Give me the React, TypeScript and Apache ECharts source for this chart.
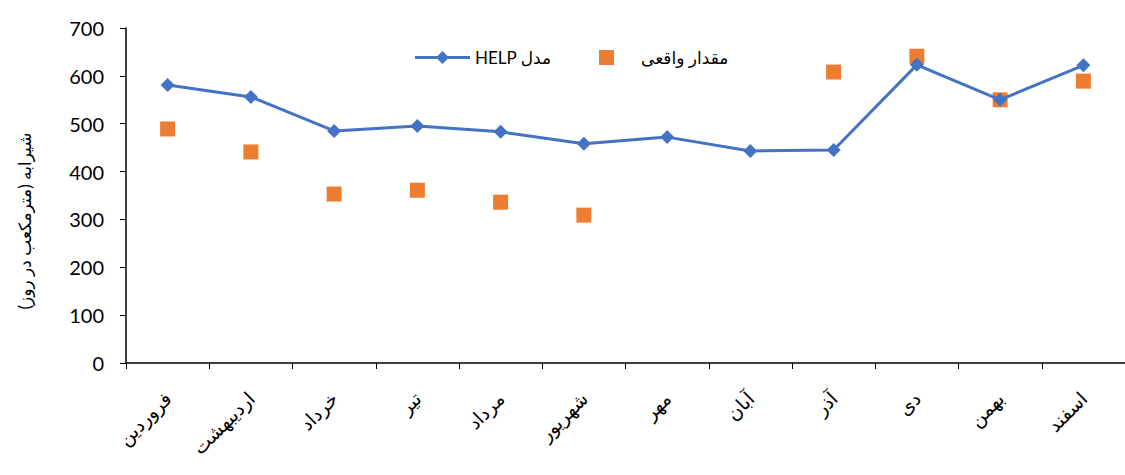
import React, { useEffect, useRef } from "react";
import * as echarts from "echarts";

const categories = ["فروردین", "اردیبهشت", "خرداد", "تیر", "مرداد", "شهریور", "مهر", "آبان", "آذر", "دی", "بهمن", "اسفند"];
const helpModel = [581, 556, 485, 495, 483, 458, 472, 443, 445, 623, 550, 622];
const observed: (number | null)[] = [489, 441, 353, 361, 336, 309, null, null, 608, 641, 550, 589];
const yTicks = { min: 0, max: 700, interval: 100 };
const lineName = "HELP مدل";
const scatterName = "مقدار واقعی";
const yAxisName = "شیرابه (مترمکعب در روز)";

const FONT = "Lato, 'DejaVu Sans', sans-serif";
const BLUE = "#4472C4";
const ORANGE = "#ED7D31";

export default function App() {
  const ref = useRef<HTMLDivElement>(null);
  useEffect(() => {
    document.body.style.margin = "0";
    const chart = echarts.init(ref.current!, null, { renderer: "svg" });
    chart.setOption({
      animation: false,
      backgroundColor: "#fff",
      legend: [
        {
          top: 44,
          left: 410,
          itemWidth: 55,
          itemHeight: 14,
          textStyle: { fontFamily: FONT, fontSize: 17, color: "#000" },
          data: [
            {
              name: lineName,
              icon: "path://M0,5.5 L55,5.5 L55,8.5 L0,8.5 Z M27.5,0.5 L34,7 L27.5,13.5 L21,7 Z",
              itemStyle: { color: BLUE },
            },
          ],
        },
        {
          top: 44,
          left: 594,
          itemWidth: 15,
          itemHeight: 15,
          textStyle: { fontFamily: FONT, fontSize: 17, color: "#000", padding: [0, 0, 0, 22] },
          data: [{ name: scatterName, icon: "rect" }],
        },
      ],
      graphic: [
        {
          type: "text",
          x: 24,
          y: 221,
          rotation: Math.PI / 2,
          style: {
            text: yAxisName,
            fontFamily: FONT,
            fontSize: 17,
            fill: "#000",
            align: "center",
            verticalAlign: "middle",
          },
        },
      ],
      grid: { left: 126, top: 28, width: 1008, height: 335, containLabel: false },
      xAxis: {
        type: "category",
        data: categories,
        boundaryGap: true,
        axisLine: { lineStyle: { color: "#000", width: 1.5 } },
        axisTick: { show: true, length: 6, lineStyle: { color: "#000" } },
        axisLabel: {
          rotate: 45,
          margin: 32,
          fontFamily: FONT,
          fontSize: 19,
          color: "#000",
          interval: 0,
        },
        splitLine: { show: false },
      },
      yAxis: {
        type: "value",
        min: yTicks.min,
        max: yTicks.max,
        interval: yTicks.interval,
        axisLine: { show: true, lineStyle: { color: "#000", width: 1.5 } },
        axisTick: { show: true, length: 6, lineStyle: { color: "#000" } },
        axisLabel: { fontFamily: FONT, fontSize: 20, color: "#000", margin: 22 },
        splitLine: { show: false },
      },
      series: [
        {
          name: lineName,
          type: "line",
          data: helpModel,
          symbol: "diamond",
          symbolSize: 14,
          lineStyle: { color: BLUE, width: 3 },
          itemStyle: { color: BLUE },
        },
        {
          name: scatterName,
          type: "scatter",
          data: observed,
          symbol: "rect",
          symbolSize: 15,
          itemStyle: { color: ORANGE, opacity: 1 },
        },
      ],
    });
    return () => chart.dispose();
  }, []);
  return <div ref={ref} style={{ position: "fixed", left: 0, top: 0, width: 1125, height: 475 }} />;
}
